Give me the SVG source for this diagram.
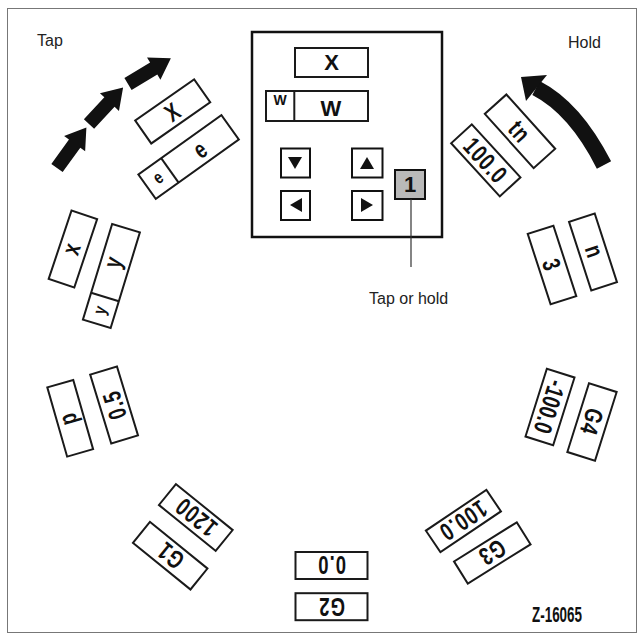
<svg xmlns="http://www.w3.org/2000/svg" width="643" height="639" viewBox="0 0 643 639">
<style>
.bx{fill:#fff;stroke:#1a1a1a;stroke-width:2}
.dv{stroke:#1a1a1a;stroke-width:2}
.t{font-family:"Liberation Sans",Arial,sans-serif;font-weight:bold;font-size:22px;fill:#111;text-anchor:middle}
.c{font-size:25px;letter-spacing:1.5px;transform:scale(0.74,1)}
.s{font-size:14px}
.cs{font-size:18px;transform:scale(0.8,1)}
.lbl{font-family:"Liberation Sans",Arial,sans-serif;font-size:16px;fill:#222}
.arr{fill:#111}
.btn{fill:#fff;stroke:#111;stroke-width:2}
</style>
<defs>
<path id="blk" d="M0,-7 L30,-7 L30,-13 L50,0 L30,13 L30,7 L0,7 Z"/>
</defs>
<rect x="0" y="0" width="643" height="639" fill="#fff"/>
<rect x="7.5" y="8.5" width="629" height="624" fill="none" stroke="#777" stroke-width="1"/>

<text class="lbl" x="37" y="46">Tap</text>
<text class="lbl" x="568" y="48">Hold</text>
<text class="lbl" x="369" y="304" font-size="17">Tap or hold</text>
<text class="t" x="557" y="622" font-size="12" textLength="50" lengthAdjust="spacingAndGlyphs">Z-16065</text>

<g id="panel">
<rect x="252" y="32" width="190" height="205" fill="#fff" stroke="#111" stroke-width="2.5"/>
<rect class="bx" x="295" y="48" width="73" height="29"/>
<text class="t" x="331.5" y="70" font-size="20">X</text>
<rect class="bx" x="266" y="91" width="102" height="30"/>
<line class="dv" x1="294.3" y1="91" x2="294.3" y2="121"/>
<text class="t s" x="280" y="105">W</text>
<text class="t" x="331" y="116" font-size="19">W</text>
<rect class="btn" x="281" y="148.5" width="29" height="29"/>
<polygon class="arr" points="288,157 302,157 295,169"/>
<rect class="btn" x="352" y="148.5" width="30.5" height="29"/>
<polygon class="arr" points="360,169 374,169 367,157"/>
<rect class="btn" x="281" y="191" width="29" height="29"/>
<polygon class="arr" points="302,198 302,212 290,205"/>
<rect class="btn" x="352" y="191" width="30.5" height="29"/>
<polygon class="arr" points="361,198 361,212 373,205"/>
<rect x="395" y="170" width="30" height="29" fill="#b9b9b9" stroke="#111" stroke-width="2"/>
<text class="t" x="410" y="192" font-size="18">1</text>
</g>

<g id="connectors">
<line x1="411" y1="199" x2="411" y2="267" stroke="#333" stroke-width="1.2"/>
<use href="#blk" class="arr" transform="translate(57,168) rotate(-54)"/>
<use href="#blk" class="arr" transform="translate(89,124) rotate(-47)"/>
<use href="#blk" class="arr" transform="translate(128,84) rotate(-31)"/>
<path d="M604,165 Q575,108 536,88" fill="none" stroke="#111" stroke-width="16"/>
<polygon class="arr" points="521,77 547,75 526,101"/>
</g>

<g id="pos-x-e">
<g transform="translate(172.7,111.4) rotate(-35)"><rect class="bx" x="-36" y="-14" width="72" height="28"/><text class="t c" y="9">X</text></g>
<g transform="translate(188.6,157) rotate(-35.5)"><rect class="bx" x="-51" y="-15" width="102" height="30"/><line class="dv" x1="-23" y1="-15" x2="-23" y2="15"/><text class="t cs" x="-46" y="5">e</text><text class="t c" x="19" y="9">e</text></g>
</g>

<g id="pos-x-y">
<g transform="translate(72.9,249) rotate(-71.5)"><rect class="bx" x="-36" y="-13.5" width="72" height="27"/><text class="t c" y="7">x</text></g>
<g transform="translate(111.4,276) rotate(-73)"><rect class="bx" x="-50" y="-14.5" width="100" height="29"/><line class="dv" x1="-22" y1="-14.5" x2="-22" y2="14.5"/><text class="t cs" x="-45" y="5">y</text><text class="t c" x="19" y="6">y</text></g>
</g>

<g id="pos-p">
<g transform="translate(70.2,418.3) rotate(-106)"><rect class="bx" x="-36" y="-13.5" width="72" height="27"/><text class="t c" y="6">p</text></g>
<g transform="translate(114.1,405) rotate(-107)"><rect class="bx" x="-36" y="-14" width="72" height="28"/><text class="t c" y="9">0.5</text></g>
</g>

<g id="pos-g1">
<g transform="translate(170.2,555.7) rotate(-141)"><rect class="bx" x="-37" y="-13.5" width="74" height="27"/><text class="t c" y="9">G1</text></g>
<g transform="translate(195.8,517.5) rotate(-141)"><rect class="bx" x="-36.5" y="-13.5" width="73" height="27"/><text class="t c" y="9">1200</text></g>
</g>

<g id="pos-g2">
<g transform="translate(331.5,606.7) rotate(180)"><rect class="bx" x="-36" y="-13.5" width="72" height="27"/><text class="t c" y="9">G2</text></g>
<g transform="translate(331.5,565.5) rotate(180)"><rect class="bx" x="-36" y="-13.5" width="72" height="27"/><text class="t c" y="9">0.0</text></g>
</g>

<g id="pos-g3">
<g transform="translate(492.3,552.9) rotate(148)"><rect class="bx" x="-37" y="-13" width="74" height="26"/><text class="t c" y="9">G3</text></g>
<g transform="translate(463.4,521) rotate(146)"><rect class="bx" x="-36.5" y="-13" width="73" height="26"/><text class="t c" y="9">100.0</text></g>
</g>

<g id="pos-g4">
<g transform="translate(592,422) rotate(107.5)"><rect class="bx" x="-36" y="-14.5" width="72" height="29"/><text class="t c" y="9">G4</text></g>
<g transform="translate(550,407) rotate(107.5)"><rect class="bx" x="-35.5" y="-14.5" width="71" height="29"/><text class="t c" y="9" style="letter-spacing:0.5px">-100.0</text></g>
</g>

<g id="pos-n">
<g transform="translate(593,252) rotate(72)"><rect class="bx" x="-36" y="-13.5" width="72" height="27"/><text class="t c" y="7">n</text></g>
<g transform="translate(552,265) rotate(72)"><rect class="bx" x="-37" y="-13.5" width="74" height="27"/><text class="t c" y="9">3</text></g>
</g>

<g id="pos-tn">
<g transform="translate(520,131.3) rotate(48)"><rect class="bx" x="-36.5" y="-14.5" width="73" height="29"/><text class="t c" y="9">tn</text></g>
<g transform="translate(485.8,160.3) rotate(47.5)"><rect class="bx" x="-36" y="-14" width="72" height="28"/><text class="t c" y="9">100.0</text></g>
</g>
</svg>
